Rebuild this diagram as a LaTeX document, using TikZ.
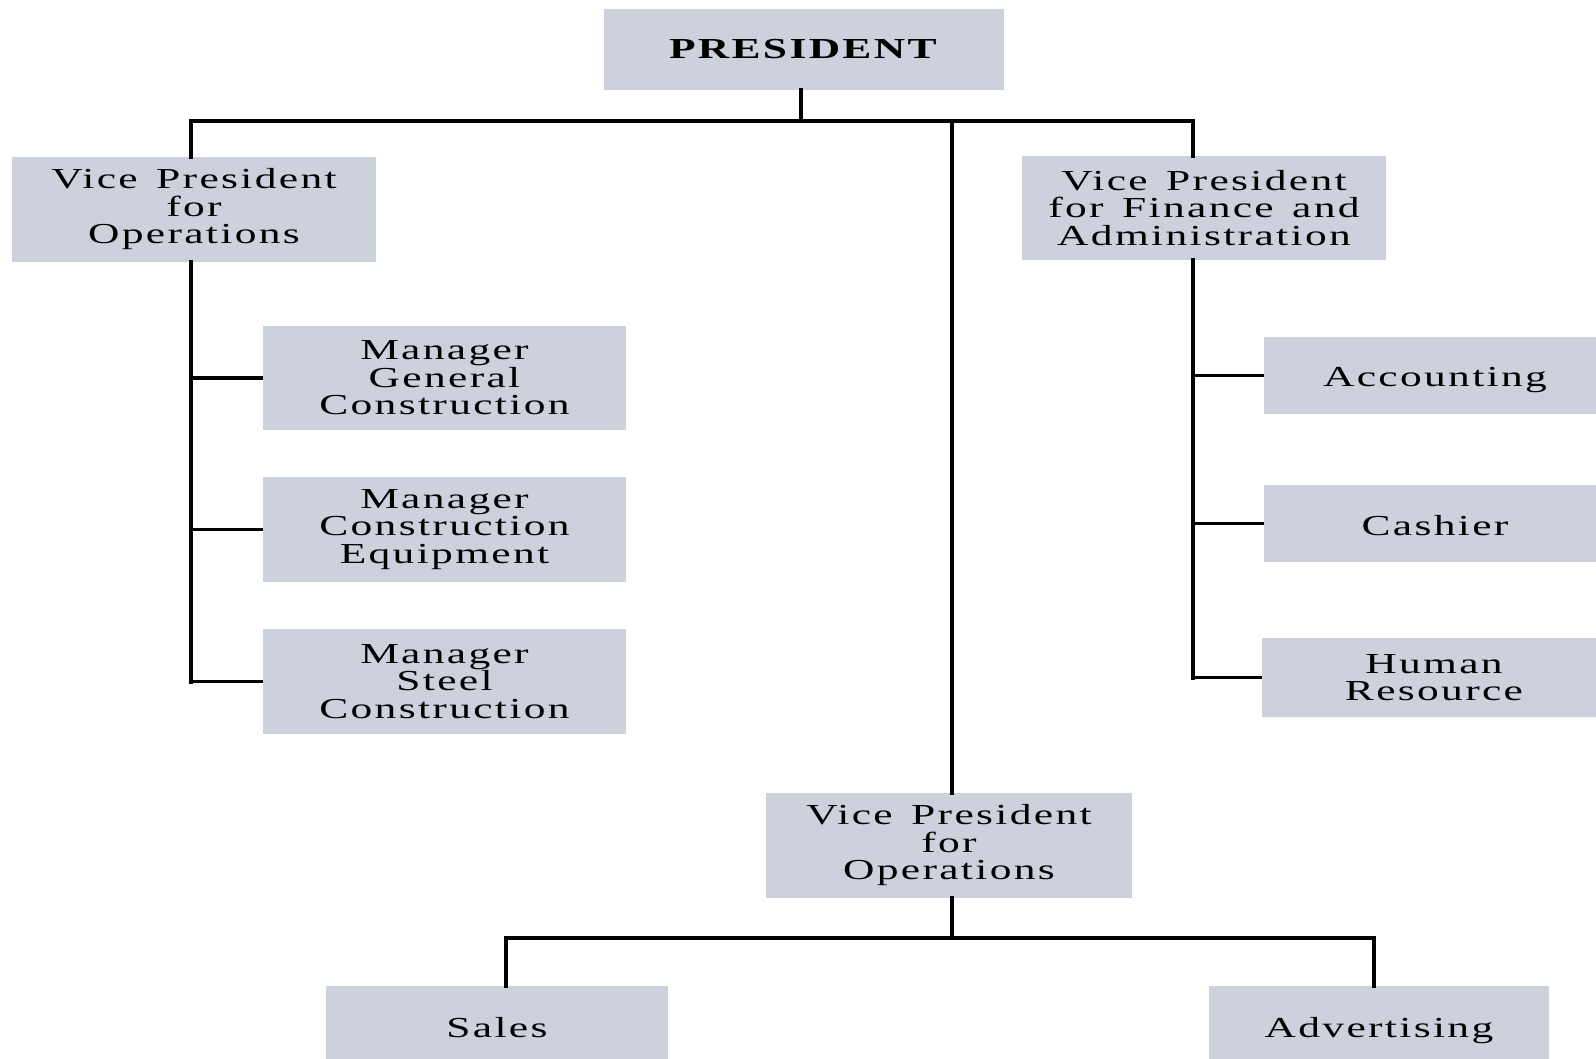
\documentclass[tikz,border=0pt]{standalone}
\usepackage{fontspec}
\setmainfont{Liberation Serif}[FakeStretch=1.5,LetterSpace=8,WordSpace=1.4]
\definecolor{boxfill}{RGB}{204,209,220}
\begin{document}
\begin{tikzpicture}[x=0.5pt,y=-0.5pt,
  unit/.style={fill=boxfill, draw=none, inner sep=0pt, align=center,
    font=\fontsize{14.5}{13.75}\selectfont},
  trunk/.style={line width=2.3pt, line cap=rect},
  branch/.style={line width=1.6pt}]
\useasboundingbox (0,0) rectangle (1596,1059);
\clip (0,0) rectangle (1596,1059);

% boxes: centre, width and height in pixels of the 1596 x 1059 sheet
\node[unit, minimum width=200pt, minimum height=40.5pt] (pres) at (804,49.5) {\textbf{PRESIDENT}};
\node[unit, minimum width=182pt, minimum height=52.5pt] (vpo) at (194,209.5) {Vice President\\for\\Operations};
\node[unit, minimum width=182pt, minimum height=52pt] (vpf) at (1204,208) {Vice President\\for Finance and\\Administration};
\node[unit, minimum width=181.5pt, minimum height=52pt] (mgc) at (444.5,378) {Manager\\General\\Construction};
\node[unit, minimum width=181.5pt, minimum height=52.5pt] (mce) at (444.5,529.5) {Manager\\Construction\\Equipment};
\node[unit, minimum width=181.5pt, minimum height=52.5pt] (msc) at (444.5,681.5) {Manager\\Steel\\Construction};
\node[unit, minimum width=171pt, minimum height=38.5pt, text height=14pt, text depth=3.2pt] (acc) at (1435,375.5) {Accounting};
\node[unit, minimum width=171pt, minimum height=38.5pt, text height=11.5pt, text depth=0pt] (cas) at (1435,523.5) {Cashier};
\node[unit, minimum width=172pt, minimum height=39.5pt] (hr) at (1434,677.5) {Human\\Resource};
\node[unit, minimum width=183pt, minimum height=52.5pt] (vpb) at (949,845.5) {Vice President\\for\\Operations};
\node[unit, minimum width=171pt, minimum height=40pt, text height=11pt, text depth=0pt] (sal) at (497,1026) {Sales};
\node[unit, minimum width=170pt, minimum height=40pt, text height=15pt, text depth=3.2pt] (adv) at (1379,1026) {Advertising};

% junction points of the connectors
\coordinate (jtop) at (801,121);
\coordinate (lx) at (191,0);
\coordinate (cx) at (952,0);
\coordinate (rx) at (1193,0);
\coordinate (jbot) at (952,938);
\coordinate (sx) at (506,0);
\coordinate (ax) at (1374,0);

% president to the top bus
\draw[trunk] (pres.south -| jtop) -- (jtop);
\draw[branch] (jtop -| lx) -- (jtop -| rx);
\draw[trunk] (jtop -| lx) -- (vpo.north -| lx);
\draw[trunk] (jtop -| rx) -- (vpf.north -| rx);
\draw[trunk] (jtop -| cx) -- (vpb.north -| cx);

% operations line
\draw[trunk] (vpo.south -| lx) -- (msc.west -| lx);
\draw[branch] (mgc.west -| lx) -- (mgc.west);
\draw[branch] (mce.west -| lx) -- (mce.west);
\draw[branch] (msc.west -| lx) -- (msc.west);

% finance line
\draw[trunk] (vpf.south -| rx) -- (hr.west -| rx);
\draw[branch] (acc.west -| rx) -- (acc.west);
\draw[branch] (cas.west -| rx) -- (cas.west);
\draw[branch] (hr.west -| rx) -- (hr.west);

% lower operations line
\draw[trunk] (vpb.south -| jbot) -- (jbot);
\draw[branch] (jbot -| sx) -- (jbot -| ax);
\draw[trunk] (jbot -| sx) -- (sal.north -| sx);
\draw[trunk] (jbot -| ax) -- (adv.north -| ax);
\end{tikzpicture}
\end{document}
